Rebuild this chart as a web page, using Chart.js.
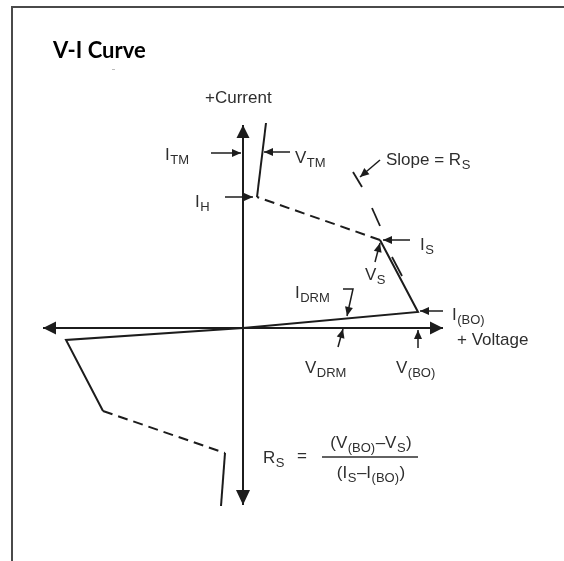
<!DOCTYPE html>
<html><head><meta charset="utf-8">
<script src="https://cdn.jsdelivr.net/npm/chart.js@4.4.0/dist/chart.umd.min.js"></script>
<style>html,body{margin:0;padding:0;background:#fff;}#wrap{width:564px;height:561px;position:relative;}</style>
</head><body><div id="wrap"><canvas id="c" width="564" height="561"></canvas></div>
<script>
// ---- Data (voltage / current units, origin at the axes crossing) ----
const axisVoltage = [-200, 200];
const axisCurrent = [203, -177];
const forwardV = [0, 175, 137, 14, 23];
const forwardI = [0, 16, 88, 131, 205];
const forwardDashed = [false, false, true, false];
const reverseV = [0, -177, -140, -18, -22];
const reverseI = [0, -12, -83, -125, -178];
const reverseDashed = [false, false, true, false];
const slopeMarkV = [[110, 119], [129, 137], [149, 159]];
const slopeMarkI = [[156, 141], [120, 102], [71, 52]];
// pointer arrows (last point is the arrow tip)
const pointerV = [[-32, -2], [47, 21], [-18, 10], [137, 117], [167, 140], [132, 137], [100, 110, 104], [95, 100], [200, 177], [175, 175]];
const pointerI = [[175, 175], [176, 176], [131, 131], [168, 151], [88, 88], [66, 85], [39, 39, 12], [-19, -1], [17, 17], [-20, -2]];

// ---- Labels ----
const labelRuns = [
  [['+Current']], [['I'], ['TM', 1]], [['V'], ['TM', 1]], [['I'], ['H', 1]],
  [['Slope = R'], ['S', 1]], [['I'], ['S', 1]], [['V'], ['S', 1]], [['I'], ['DRM', 1]],
  [['I'], ['(BO)', 1]], [['+ Voltage']], [['V'], ['DRM', 1]], [['V'], ['(BO)', 1]],
  [['R'], ['S', 1]], [['=']]
];
const labelAt = [
  [-38, 225], [-78, 168], [52, 165], [-48, 121], [143, 163], [177, 78], [122, 48], [52, 30],
  [209, 8], [214, -17], [62, -45], [153, -45], [20, -135], [54, -133]
];
const numeratorRuns = [['(V'], ['(BO)', 1], ['\u2013V'], ['S', 1], [')']];
const denominatorRuns = [['(I'], ['S', 1], ['\u2013I'], ['(BO)', 1], [')']];
const fractionAt = { v: 127, iNum: -120, iDen: -150, iBar: -129, vFrom: 79, vTo: 175 };

const INK = '#1c1c1c';
const TXT = '#2e2e2e';

function pts(vs, is) { return vs.map((v, k) => ({ x: v, y: is[k] })); }

const datasets = [];
function line(data, opts) {
  datasets.push(Object.assign({ data, showLine: true, borderColor: INK, borderWidth: 2, pointRadius: 0, fill: false, tension: 0 }, opts || {}));
}
line(pts(axisVoltage, [0, 0]), { arrowStart: [13, 6.5], arrowEnd: [13, 6.5], borderWidth: 2 });
line(pts([0, 0], axisCurrent), { arrowStart: [13, 6.5], arrowEnd: [15, 7], borderWidth: 2 });
line(pts(forwardV, forwardI), { segment: { borderDash: c => forwardDashed[c.p0DataIndex] ? [10, 6] : undefined } });
line(pts(reverseV, reverseI), { segment: { borderDash: c => reverseDashed[c.p0DataIndex] ? [10, 6] : undefined } });
slopeMarkV.forEach((vs, k) => line(pts(vs, slopeMarkI[k]), { borderWidth: 1.8 }));
pointerV.forEach((vs, k) => line(pts(vs, pointerI[k]), { borderWidth: 1.5, arrowEnd: [9, 4] }));

function head(ctx, x0, y0, x1, y1, spec) {
  const len = spec[0], hw = spec[1];
  const a = Math.atan2(y1 - y0, x1 - x0);
  const bx = x1 - len * Math.cos(a), by = y1 - len * Math.sin(a);
  ctx.beginPath();
  ctx.moveTo(x1, y1);
  ctx.lineTo(bx + hw * Math.sin(a), by - hw * Math.cos(a));
  ctx.lineTo(bx - hw * Math.sin(a), by + hw * Math.cos(a));
  ctx.closePath();
  ctx.fillStyle = INK; ctx.fill();
}

const MAIN = '17px "Liberation Sans", Arial, sans-serif';
const SUB = '13px "Liberation Sans", Arial, sans-serif';
function runsWidth(ctx, runs) { let w = 0; runs.forEach(r => { ctx.font = r[1] ? SUB : MAIN; w += ctx.measureText(r[0]).width; }); return w; }
function drawRuns(ctx, runs, x, y, center) {
  let cx = center ? x - runsWidth(ctx, runs) / 2 : x;
  runs.forEach(r => { ctx.font = r[1] ? SUB : MAIN; ctx.fillText(r[0], cx + (r[1] ? 0.5 : 0), y + (r[1] ? 4 : 0)); cx += ctx.measureText(r[0]).width + (r[1] ? 1 : 0); });
}

const diagram = {
  id: 'diagram',
  beforeDraw(chart) { const c = chart.ctx; c.save(); c.fillStyle = '#fff'; c.fillRect(0, 0, chart.width, chart.height); c.restore(); },
  afterDatasetsDraw(chart) {
    const ctx = chart.ctx;
    ctx.save();
    chart.data.datasets.forEach((ds, k) => {
      const p = chart.getDatasetMeta(k).data; if (p.length < 2) return;
      if (ds.arrowEnd) head(ctx, p[p.length - 2].x, p[p.length - 2].y, p[p.length - 1].x, p[p.length - 1].y, ds.arrowEnd);
      if (ds.arrowStart) head(ctx, p[1].x, p[1].y, p[0].x, p[0].y, ds.arrowStart);
    });
    ctx.restore();
  },
  afterDraw(chart) {
    const ctx = chart.ctx, xs = chart.scales.x, ys = chart.scales.y;
    const px = v => xs.getPixelForValue(v), py = i => ys.getPixelForValue(i);
    ctx.save();
    // frame
    ctx.strokeStyle = '#4a4a4a'; ctx.lineWidth = 2;
    ctx.beginPath(); ctx.moveTo(12, 561); ctx.lineTo(12, 7); ctx.lineTo(564, 7); ctx.stroke();
    // title
    ctx.fillStyle = '#000'; ctx.textBaseline = 'alphabetic';
    ctx.font = 'bold 22px Lato, "Open Sans", sans-serif';
    ctx.fillText('V-I Curve', 53, 58);
    ctx.fillStyle = '#bbb'; ctx.fillRect(112, 69, 3, 1);
    // labels
    ctx.fillStyle = TXT;
    labelRuns.forEach((runs, k) => drawRuns(ctx, runs, px(labelAt[k][0]), py(labelAt[k][1]), false));
    drawRuns(ctx, numeratorRuns, px(fractionAt.v), py(fractionAt.iNum), true);
    drawRuns(ctx, denominatorRuns, px(fractionAt.v), py(fractionAt.iDen), true);
    ctx.strokeStyle = TXT; ctx.lineWidth = 1.5;
    ctx.beginPath(); ctx.moveTo(px(fractionAt.vFrom), py(fractionAt.iBar)); ctx.lineTo(px(fractionAt.vTo), py(fractionAt.iBar)); ctx.stroke();
    ctx.restore();
  }
};

new Chart(document.getElementById('c'), {
  type: 'scatter',
  data: { datasets },
  options: {
    responsive: false, animation: false, events: [],
    layout: { padding: 0 },
    plugins: { legend: { display: false }, tooltip: { enabled: false }, title: { display: false } },
    scales: {
      x: { type: 'linear', min: -243, max: 321, display: false },
      y: { type: 'linear', min: -233, max: 328, display: false }
    }
  },
  plugins: [diagram]
});
</script></body></html>
